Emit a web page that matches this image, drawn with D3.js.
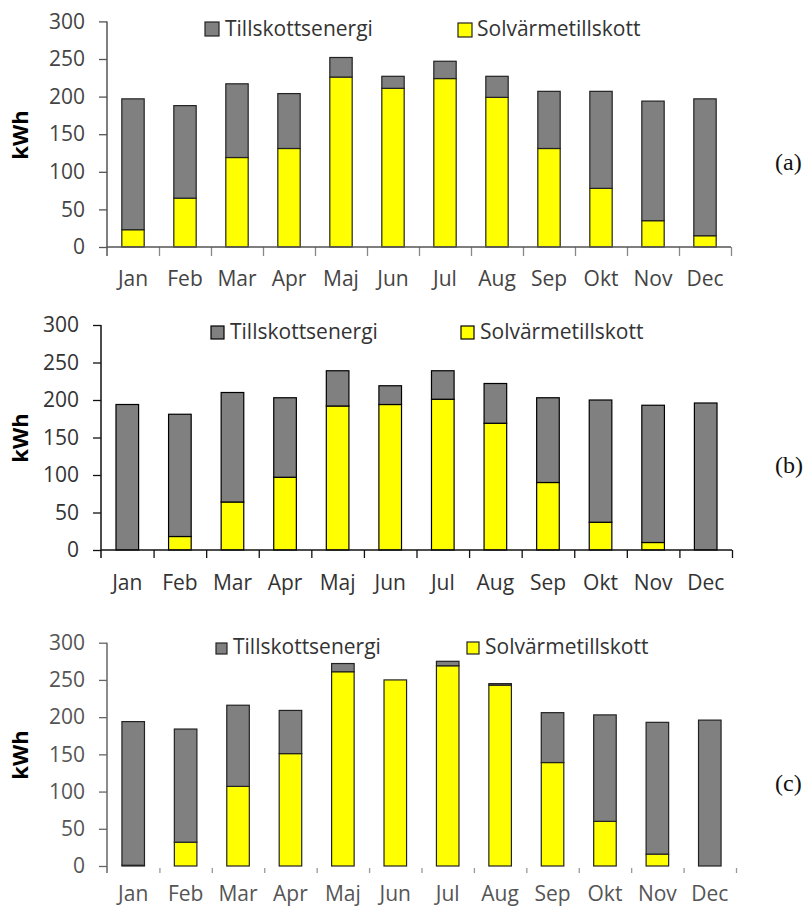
<!DOCTYPE html>
<html>
<head>
<meta charset="utf-8">
<script src="https://cdn.jsdelivr.net/npm/d3@7/dist/d3.min.js"></script>
<style>
  html, body { margin: 0; padding: 0; background: #fff; }
  svg { display: block; }
</style>
</head>
<body>
<svg id="chart" width="804" height="908"></svg>
<script>
// ---------------- DATA ----------------
const months = ["Jan","Feb","Mar","Apr","Maj","Jun","Jul","Aug","Sep","Okt","Nov","Dec"];
const yTicks = [0, 50, 100, 150, 200, 250, 300];
const seriesNames = ["Tillskottsenergi", "Solvärmetillskott"];
const panelLabels = ["(a)", "(b)", "(c)"];
const yAxisTitle = "kWh";

// Solvärmetillskott (kWh) per month
const solarA = [23, 65, 119, 131, 226, 211, 224, 199, 131, 78, 35, 15];
const solarB = [0, 18, 64, 97, 192, 194, 201, 169, 90, 37, 10, 0];
const solarC = [1, 32, 107, 151, 261, 250, 269, 243, 139, 60, 16, 0];

// Tillskottsenergi (kWh) per month (stacked on top)
const suppA = [174, 123, 98, 73, 26, 16, 23, 28, 76, 129, 159, 182];
const suppB = [194, 163, 146, 106, 47, 25, 38, 53, 113, 163, 183, 196];
const suppC = [193, 152, 109, 58, 11, 0, 6, 2, 67, 143, 177, 196];

// ---------------- LAYOUT ----------------
const layouts = [
  { solar: solarA, supp: suppA, label: panelLabels[0],
    x0: 107, x1: 731, yZero: 247, yMax: 21.4,
    legGray: [205, 22, 14], legGrayText: 225, legYel: [458, 23, 14], legYelText: 477, legBase: 36,
    monthBase: 286, kwhY: 135, labY: 170,
    axisColor: "#555", tickColor: "#888", strokeColor: "#222", tickTextColor: "#444",
    xAxisLine: true, xTickTop: 0, xTickLen: 9 },
  { solar: solarB, supp: suppB, label: panelLabels[1],
    x0: 101, x1: 732, yZero: 550, yMax: 325,
    legGray: [211, 326, 13], legGrayText: 230, legYel: [461, 326, 13], legYelText: 480, legBase: 339,
    monthBase: 590, kwhY: 438, labY: 473,
    axisColor: "#111", tickColor: "#111", strokeColor: "#000", tickTextColor: "#333",
    xAxisLine: true, xTickTop: 0, xTickLen: 8 },
  { solar: solarC, supp: suppC, label: panelLabels[2],
    x0: 107, x1: 736, yZero: 866, yMax: 642.7,
    legGray: [216, 643, 11], legGrayText: 233, legYel: [467, 642, 12], legYelText: 485, legBase: 654,
    monthBase: 901, kwhY: 755, labY: 791,
    axisColor: "#666", tickColor: "#999", strokeColor: "#222", tickTextColor: "#555",
    xAxisLine: false, xTickTop: 2, xTickLen: 5 }
];

const grayFill = "#808080";
const yellowFill = "#FFFF00";
const fontSans = "'Open Sans', 'DejaVu Sans', sans-serif";

const svg = d3.select("#chart");

layouts.forEach(L => {
  const g = svg.append("g");

  const x = d3.scaleBand().domain(months).range([L.x0, L.x1]).paddingInner(0).paddingOuter(0);
  const y = d3.scaleLinear().domain([0, 300]).range([L.yZero, L.yMax]);
  const xb = d3.scaleLinear().domain([0, months.length]).range([L.x0, L.x1]);

  const rows = months.map((m, i) => ({ month: m, solar: L.solar[i], supp: L.supp[i] }));
  const stacked = d3.stack().keys(["solar", "supp"])(rows);
  const fills = { solar: yellowFill, supp: grayFill };

  const barW = x.bandwidth() * 0.43;

  // bars
  stacked.forEach(layer => {
    g.append("g")
      .selectAll("rect")
      .data(layer)
      .join("rect")
      .attr("x", d => x(d.data.month) + (x.bandwidth() - barW) / 2)
      .attr("y", d => y(d[1]))
      .attr("width", barW)
      .attr("height", d => Math.max(0, y(d[0]) - y(d[1])))
      .attr("fill", fills[layer.key])
      .attr("stroke", L.strokeColor)
      .attr("stroke-width", 1.2);
  });

  // y axis
  const yAxis = d3.axisLeft(y).tickValues(yTicks).tickSize(8).tickPadding(14).tickSizeOuter(0);
  const ya = g.append("g").attr("transform", `translate(${L.x0},0)`).call(yAxis);
  ya.select(".domain").remove();
  ya.selectAll(".tick line").attr("stroke", L.axisColor).attr("stroke-width", 1.3);
  ya.selectAll(".tick text")
    .attr("font-family", fontSans).attr("font-size", 21)
    .attr("fill", L.tickTextColor);
  g.append("line")
    .attr("x1", L.x0).attr("x2", L.x0)
    .attr("y1", y(300)).attr("y2", L.yZero + L.xTickTop + L.xTickLen)
    .attr("stroke", L.axisColor).attr("stroke-width", 1.5);

  // x axis
  const xAxis = d3.axisBottom(xb).tickValues(d3.range(1, months.length + 1))
    .tickSize(L.xTickLen).tickFormat("").tickSizeOuter(0);
  const xa = g.append("g").attr("transform", `translate(0,${L.yZero + L.xTickTop})`).call(xAxis);
  xa.select(".domain").remove();
  xa.selectAll(".tick line").attr("stroke", L.tickColor).attr("stroke-width", 1.3);
  if (L.xAxisLine) {
    g.append("line")
      .attr("x1", L.x0).attr("x2", L.x1)
      .attr("y1", L.yZero).attr("y2", L.yZero)
      .attr("stroke", L.axisColor).attr("stroke-width", 1.5);
  }

  // month labels
  g.append("g").selectAll("text").data(months).join("text")
    .attr("x", d => x(d) + x.bandwidth() / 2)
    .attr("y", L.monthBase)
    .attr("text-anchor", "middle")
    .attr("font-family", fontSans).attr("font-size", 21)
    .attr("fill", L.tickTextColor)
    .text(d => d);

  // y axis title
  g.append("text")
    .attr("transform", `translate(28,${L.kwhY}) rotate(-90)`)
    .attr("text-anchor", "middle")
    .attr("font-family", fontSans).attr("font-size", 22).attr("font-weight", "bold")
    .attr("fill", "#000")
    .text(yAxisTitle);

  // legend
  const leg = [
    { sq: L.legGray, tx: L.legGrayText, fill: grayFill, name: seriesNames[0] },
    { sq: L.legYel, tx: L.legYelText, fill: yellowFill, name: seriesNames[1] }
  ];
  leg.forEach(e => {
    g.append("rect")
      .attr("x", e.sq[0]).attr("y", e.sq[1])
      .attr("width", e.sq[2]).attr("height", e.sq[2])
      .attr("fill", e.fill).attr("stroke", L.strokeColor).attr("stroke-width", 1.2);
    g.append("text")
      .attr("x", e.tx).attr("y", L.legBase)
      .attr("font-family", fontSans).attr("font-size", 21)
      .attr("fill", "#333")
      .text(e.name);
  });

  // panel label
  g.append("text")
    .attr("x", 775).attr("y", L.labY)
    .attr("font-family", "'Liberation Serif', 'DejaVu Serif', serif")
    .attr("font-size", 24)
    .attr("fill", "#111")
    .text(L.label);
});
</script>
</body>
</html>
